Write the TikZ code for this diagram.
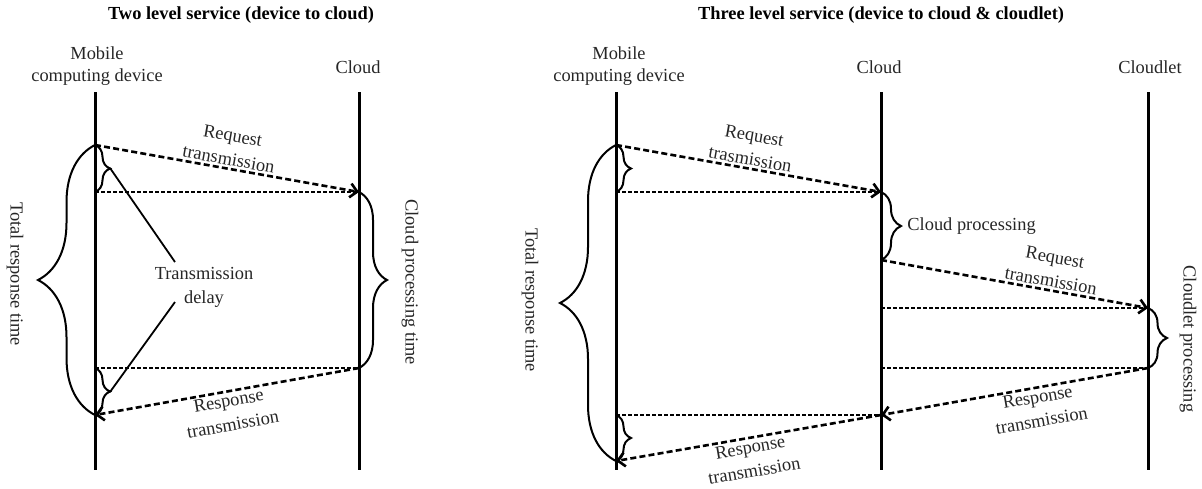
\documentclass[tikz,border=0pt]{standalone}
\usepackage{fontspec}
\setmainfont{Liberation Serif}
\usetikzlibrary{arrows.meta, positioning, decorations.pathreplacing}
\tikzset{
    lifeline/.style = {line width=1.5pt},
    msg/.style = {line width=1.3pt, dash pattern=on 3pt off 1.6pt, -{Straight Barb[length=3.5pt, width=7pt]}},
    guide/.style = {line width=0.85pt, dash pattern=on 2pt off 1pt},
    curly/.style = {line width=1pt, decorate, decoration={brace, amplitude=#1}},
    actor/.style = {align=center, font=\fontsize{9.2}{11}\selectfont, text=black!85},
    lbl/.style = {align=center, font=\fontsize{9.2}{12}\selectfont, text=black!85, inner sep=1pt},
    heading/.style = {font=\fontsize{9.2}{11}\selectfont\bfseries},
    pointer/.style = {line width=0.9pt}
}

\begin{document}
\begin{tikzpicture}[x=0.5pt, y=-0.5pt]
  \useasboundingbox (0,0) rectangle (1202,488);

  % two level service
  \node[heading] (titleA) at (241,15) {Two level service (device to cloud)};
  \node[actor] (devA) at (97,66) {Mobile\\computing device};
  \node[actor] (cloudA) at (358,67) {Cloud};

  \coordinate (a1) at (95,145);
  \coordinate (a2) at (95,192);
  \coordinate (a3) at (95,368);
  \coordinate (a4) at (95,415);
  \coordinate (b1) at (359,192);
  \coordinate (b2) at (359,368);

  \draw[lifeline] (95,92) -- (95,470);
  \draw[lifeline] (359,92) -- (359,470);

  \draw[msg] (a1) -- node[lbl, sloped, above=0pt] {Request\\transmission} (b1);
  \draw[guide] (a2) -- (b1);
  \draw[guide] (a3) -- (b2);
  \draw[msg] (b2) -- node[lbl, sloped, below=0pt] {Response\\transmission} (a4);

  \draw[curly=7.5pt] (a1) -- (a2);
  \draw[curly=7.5pt] (a3) -- (a4);
  \draw[curly=28.5pt] (a4) -- (a1);
  \draw[curly=14pt] (b1) -- (b2);

  \node[lbl, rotate=-90] (totalA) at (15,274) {Total response time};
  \node[lbl, rotate=-90] (cprocA) at (410,282) {Cloud processing time};

  \node[lbl] (delay) at (204,287) {Transmission\\delay};
  \coordinate (tipA) at (110,168);
  \coordinate (tipB) at (110,392);
  \coordinate (dA) at (175,262);
  \coordinate (dB) at (175,302);
  \draw[pointer] (tipA) -- (dA);
  \draw[pointer] (tipB) -- (dB);

  % three level service
  \node[heading] (titleB) at (881,15) {Three level service (device to cloud \& cloudlet)};
  \node[actor] (devB) at (619,66) {Mobile\\computing device};
  \node[actor] (cloudB) at (879,67) {Cloud};
  \node[actor] (cletB) at (1150,67) {Cloudlet};

  \coordinate (c1) at (616,145);
  \coordinate (c2) at (616,192);
  \coordinate (c3) at (616,415);
  \coordinate (c4) at (616,461);
  \coordinate (d1) at (881,192);
  \coordinate (d2) at (881,260);
  \coordinate (d3) at (881,308);
  \coordinate (d4) at (881,368);
  \coordinate (d5) at (881,415);
  \coordinate (e1) at (1148,308);
  \coordinate (e2) at (1148,368);

  \draw[lifeline] (616,92) -- (616,470);
  \draw[lifeline] (881,92) -- (881,470);
  \draw[lifeline] (1148,92) -- (1148,470);

  \draw[msg] (c1) -- node[lbl, sloped, above=0pt] {Request\\trasmission} (d1);
  \draw[guide] (c2) -- (d1);
  \draw[msg] (d2) -- node[lbl, sloped, above=0pt, pos=0.63] {Request\\transmission} (e1);
  \draw[guide] (d3) -- (e1);
  \draw[guide] (d4) -- (e2);
  \draw[msg] (e2) -- node[lbl, sloped, below=0pt, pos=0.42] {Response\\transmission} (d5);
  \draw[guide] (c3) -- (d5);
  \draw[msg] (d5) -- node[lbl, sloped, below=0pt] {Response\\transmission} (c4);

  \draw[curly=7.5pt] (c1) -- (c2);
  \draw[curly=7.5pt] (c3) -- (c4);
  \draw[curly=28pt] (c4) -- (c1);
  \draw[curly=10pt] (d1) -- (d2);
  \draw[curly=9.5pt] (e1) -- (e2);

  \coordinate (cpTip) at (901,226);
  \node[lbl, right=2pt of cpTip] (cprocB) {Cloud processing};
  \node[lbl, rotate=-90] (totalB) at (530,300) {Total response time};
  \node[lbl, rotate=-90] (clprocB) at (1188,339) {Cloudlet processing};
\end{tikzpicture}
\end{document}
